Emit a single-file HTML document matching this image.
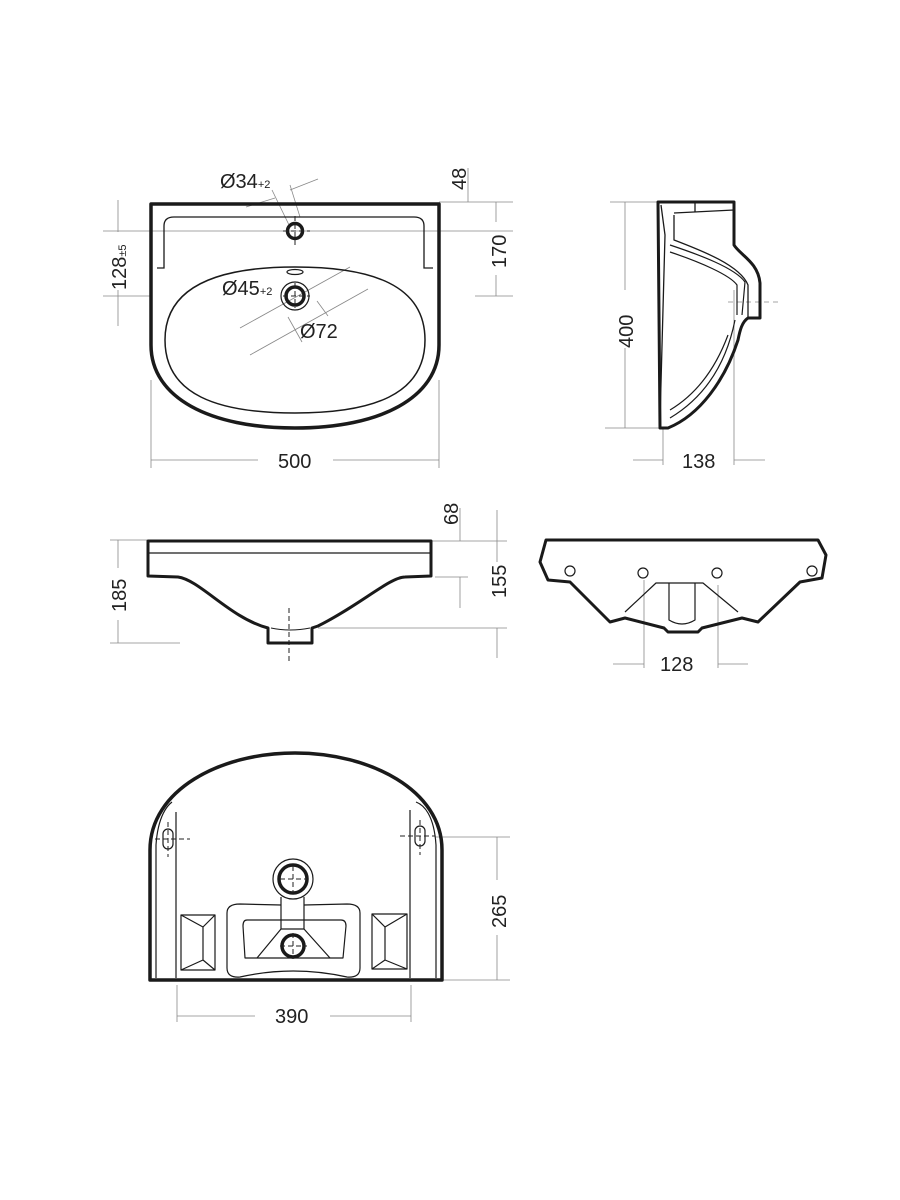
<!DOCTYPE html>
<html><head><meta charset="utf-8"><style>
html,body{margin:0;padding:0;background:#fff}
svg{display:block}
text{font-family:"Liberation Sans",sans-serif;fill:#222}
</style></head><body>
<svg width="900" height="1200" viewBox="0 0 900 1200" xmlns="http://www.w3.org/2000/svg">
<g fill="none" stroke="#888" stroke-width="0.8">
<line x1="103" y1="231" x2="513" y2="231"/>
<line x1="103" y1="296" x2="150" y2="296"/>
<line x1="475" y1="296" x2="513" y2="296"/>
<line x1="439" y1="202" x2="513" y2="202"/>
<line x1="118" y1="200" x2="118" y2="232"/><line x1="118" y1="290" x2="118" y2="326"/>
<line x1="496" y1="202" x2="496" y2="222"/><line x1="496" y1="275" x2="496" y2="296"/>
<line x1="468" y1="168" x2="468" y2="202"/>
<line x1="151" y1="380" x2="151" y2="468"/><line x1="439" y1="380" x2="439" y2="468"/>
<line x1="151" y1="460" x2="258" y2="460"/><line x1="333" y1="460" x2="439" y2="460"/>
<line x1="246" y1="207" x2="275" y2="198"/><line x1="290" y1="190" x2="318" y2="179"/>
<line x1="272" y1="190" x2="290" y2="227"/><line x1="290" y1="185" x2="300" y2="217"/>
<line x1="240" y1="328" x2="350" y2="267"/><line x1="250" y1="355" x2="368" y2="289"/>
<line x1="288" y1="317" x2="302" y2="342"/><line x1="317" y1="301" x2="328" y2="316"/>
<line x1="610" y1="202" x2="658" y2="202"/><line x1="605" y1="428" x2="663" y2="428"/>
<line x1="625" y1="202" x2="625" y2="290"/><line x1="625" y1="348" x2="625" y2="428"/>
<line x1="663" y1="428" x2="663" y2="465"/><line x1="734" y1="290" x2="734" y2="465"/>
<line x1="633" y1="460" x2="663" y2="460"/><line x1="734" y1="460" x2="765" y2="460"/>
<line x1="728" y1="302" x2="780" y2="302" stroke-dasharray="5,4"/>
<line x1="110" y1="540" x2="147" y2="540"/><line x1="110" y1="643" x2="180" y2="643"/>
<line x1="118" y1="540" x2="118" y2="568"/><line x1="118" y1="620" x2="118" y2="643"/>
<line x1="432" y1="541" x2="507" y2="541"/><line x1="435" y1="577" x2="468" y2="577"/>
<line x1="318" y1="628" x2="507" y2="628"/>
<line x1="460" y1="508" x2="460" y2="541"/><line x1="497" y1="510" x2="497" y2="541"/>
<line x1="460" y1="577" x2="460" y2="608"/>
<line x1="497" y1="628" x2="497" y2="658"/><line x1="497" y1="541" x2="497" y2="562"/>
<line x1="644" y1="580" x2="644" y2="668"/><line x1="718" y1="585" x2="718" y2="668"/>
<line x1="613" y1="664" x2="644" y2="664"/><line x1="718" y1="664" x2="748" y2="664"/>
<line x1="435" y1="837" x2="510" y2="837"/><line x1="442" y1="980" x2="510" y2="980"/>
<line x1="497" y1="837" x2="497" y2="880"/><line x1="497" y1="935" x2="497" y2="980"/>
<line x1="177" y1="985" x2="177" y2="1022"/><line x1="411" y1="985" x2="411" y2="1022"/>
<line x1="177" y1="1016" x2="255" y2="1016"/><line x1="330" y1="1016" x2="411" y2="1016"/>
</g>
<g fill="none" stroke="#222" stroke-dasharray="5,3" stroke-width="1">
<line x1="289" y1="608" x2="289" y2="662"/>
</g>
<g fill="none" stroke="#1a1a1a">
<path d="M151,204 H439 V345 C439,398 380,428 295,428 C210,428 151,398 151,345 Z" stroke-width="3.5" stroke-linejoin="round"/>
<path d="M157,268 H164 V226 Q164,217 174,217 H414 Q424,217 424,226 V268 H433" stroke-width="1.3"/>
<path d="M165,340 C165,285 220,267 295,267 C372,267 425,285 425,340 C425,395 372,413 295,413 C218,413 165,395 165,340 Z" stroke-width="1.5"/>
<circle cx="295" cy="231" r="7.5" stroke-width="3.5"/>
<ellipse cx="295" cy="272" rx="8" ry="2.5" stroke-width="1.2"/>
<circle cx="295" cy="296" r="9" stroke-width="3.5"/>
<circle cx="295" cy="296" r="14" stroke-width="1.2"/>
</g>
<g fill="none" stroke="#1a1a1a" stroke-linejoin="round">
<path d="M658,202 H734 V245 C740,255 758,262 760,283 V318 H748 C742,322 740,330 738,340 C725,380 700,415 668,428 L660,428 Z" stroke-width="3"/>
<path d="M674,213 L734,210 M695,202 V212" stroke-width="1.3"/>
<path d="M674,215 L674,240 C700,250 740,265 748,285 L748,318 M661,205 L665,235 L660,420" stroke-width="1.3"/>
<path d="M670,245 C700,255 735,268 745,282 L742,315 M670,252 C700,262 730,275 737,285 L737,315" stroke-width="1.2"/>
<path d="M735,320 C725,370 700,400 670,418 M728,335 C715,370 695,395 670,410" stroke-width="1.2"/>
</g>
<g fill="none" stroke="#1a1a1a" stroke-linejoin="round">
<path d="M148,541 H431 V576 L405,577 C390,577 360,605 318,626 L312,628 V643 H268 V628 C230,618 200,580 178,577 L148,576 Z" stroke-width="3"/>
<line x1="148" y1="553" x2="431" y2="553" stroke-width="1.3"/>
<path d="M271,628 Q290,632 310,628" stroke-width="1"/>
</g>
<g fill="none" stroke="#1a1a1a" stroke-linejoin="round">
<path d="M546,540 H818 L826,555 L822,578 L800,582 L758,622 L742,618 L702,628 L698,632 H668 L664,628 L625,618 L610,622 L570,582 L548,580 L540,562 Z" stroke-width="3"/>
<circle cx="570" cy="571" r="5" stroke-width="1.2"/>
<circle cx="812" cy="571" r="5" stroke-width="1.2"/>
<circle cx="643" cy="573" r="5" stroke-width="1.2"/>
<circle cx="717" cy="573" r="5" stroke-width="1.2"/>
<path d="M625,612 L656,583 H703 L738,612 M669,583 V620 Q682,628 695,620 V583" stroke-width="1.2"/>
</g>
<g fill="none" stroke="#1a1a1a" stroke-linejoin="round">
<path d="M150,980 V850 C150,790 220,753 295,753 C370,753 442,790 442,850 V980 Z" stroke-width="3.5"/>
<path d="M156,978 V845 C158,815 168,805 172,802 M436,978 V845 C434,815 424,805 416,802" stroke-width="1.2"/>
<path d="M176,978 V812 M410,978 V810" stroke-width="1.2"/>
<rect x="163" y="829" width="10" height="20" rx="5" stroke-width="1.2"/>
<rect x="415" y="826" width="10" height="20" rx="5" stroke-width="1.2"/>
<circle cx="293" cy="879" r="20" stroke-width="1.2"/>
<circle cx="293" cy="879" r="14" stroke-width="3.5"/>
<circle cx="293" cy="946" r="11" stroke-width="3.5"/>
<path d="M281,897 V929 H304 V897" stroke-width="1.2"/>
<path d="M281,905 L240,904 Q227,904 227,913 V968 Q227,978 240,977 Q293,965 347,977 Q360,978 360,968 V913 Q360,904 347,904 L304,905" stroke-width="1.2"/>
<path d="M247,920 H341 Q346,920 346,926 L343,958 H245 L243,926 Q243,920 247,920 Z" stroke-width="1.2"/>
<path d="M257,958 L281,929 M330,958 L304,929" stroke-width="1.2"/>
<rect x="181" y="915" width="34" height="55" stroke-width="1.2"/>
<path d="M181,915 L203,927 V960 L181,970 M215,915 L203,927 M215,970 L203,960" stroke-width="1.2"/>
<rect x="372" y="914" width="35" height="55" stroke-width="1.2"/>
<path d="M372,914 L385,927 V960 L372,969 M407,914 L385,927 M407,969 L385,960" stroke-width="1.2"/>
</g>
<g fill="none" stroke="#222" stroke-width="1" stroke-dasharray="5,3">
<line x1="280" y1="879" x2="307" y2="879"/><line x1="293" y1="866" x2="293" y2="893"/>
<line x1="280" y1="946" x2="307" y2="946"/><line x1="293" y1="933" x2="293" y2="959"/>
<line x1="155" y1="839" x2="190" y2="839"/><line x1="168" y1="822" x2="168" y2="857"/>
<line x1="400" y1="836" x2="435" y2="836"/><line x1="420" y1="820" x2="420" y2="855"/>
<line x1="283" y1="231" x2="310" y2="231"/><line x1="295" y1="216" x2="295" y2="248"/>
<line x1="283" y1="296" x2="310" y2="296"/><line x1="295" y1="283" x2="295" y2="308"/>
</g>
<g font-size="20">
<text x="220" y="188">Ø34<tspan font-size="11">+2</tspan></text>
<text x="222" y="295">Ø45<tspan font-size="11">+2</tspan></text>
<text x="300" y="338">Ø72</text>
<text x="278" y="468">500</text>
<text x="682" y="468">138</text>
<text x="660" y="671">128</text>
<text x="275" y="1023">390</text>
<text transform="translate(126,290) rotate(-90)">128<tspan font-size="11">±5</tspan></text>
<text transform="translate(506,268) rotate(-90)">170</text>
<text transform="translate(466,190) rotate(-90)">48</text>
<text transform="translate(633,348) rotate(-90)">400</text>
<text transform="translate(126,612) rotate(-90)">185</text>
<text transform="translate(506,598) rotate(-90)">155</text>
<text transform="translate(458,525) rotate(-90)">68</text>
<text transform="translate(506,928) rotate(-90)">265</text>
</g>
</svg>
</body></html>
